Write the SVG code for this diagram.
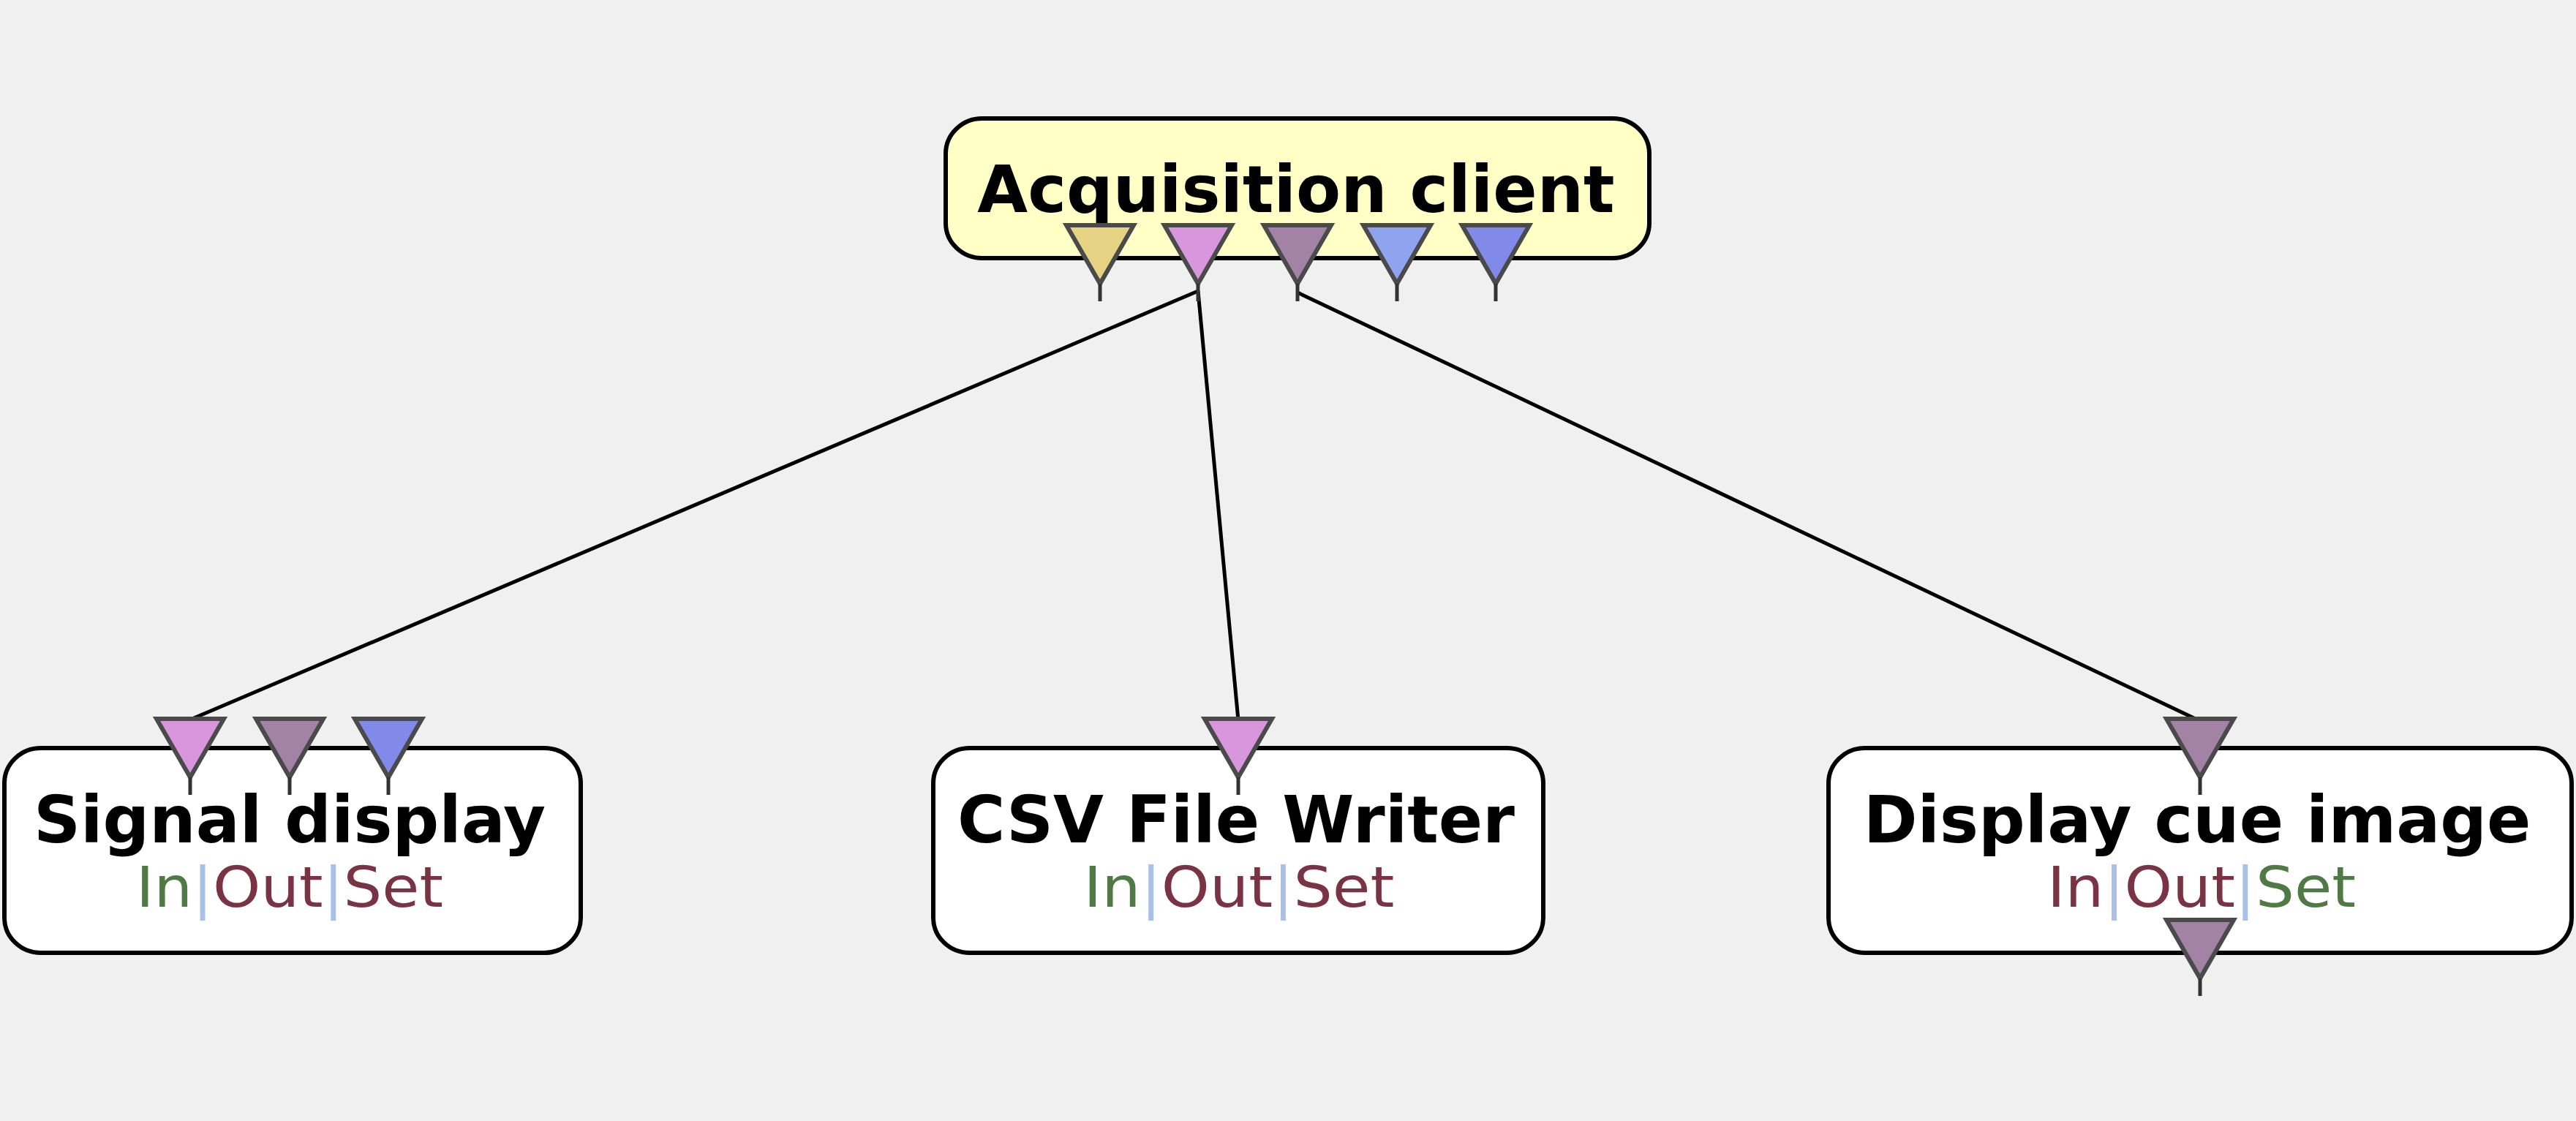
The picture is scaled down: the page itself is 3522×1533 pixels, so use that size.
<svg xmlns="http://www.w3.org/2000/svg" width="3522" height="1533" viewBox="0 0 3522 1533">
<style>
.bg{fill:#f0f0f0}
.box{stroke:#000;stroke-width:6}
.acq{fill:#ffffc6}
.blk{fill:#ffffff}
.title{font-family:"DejaVu Sans",sans-serif;font-weight:bold;font-size:89px;fill:#000;text-anchor:middle}
.sub{font-family:"DejaVu Sans",sans-serif;font-size:76px;text-anchor:middle}
.g{fill:#4f7a45}
.m{fill:#7a3344}
.p{fill:#a9c1e6}
.port{stroke:#4a4a4a;stroke-width:6;stroke-linejoin:miter}
.stem{stroke:#333;stroke-width:5}
.c1{fill:#e6d283}
.c2{fill:#d896dc}
.c3{fill:#a283a6}
.c4{fill:#8fa3ef}
.c5{fill:#818ae8}
.conn{stroke:#000;stroke-width:5;fill:none}
</style>
<defs>
<g id="tri"><polygon points="-46,0 46,0 0,80" class="port"/><line x1="0" y1="80" x2="0" y2="104" class="stem"/></g>
</defs>
<rect class="bg" x="0" y="0" width="3522" height="1533"/>
<g id="connectors">
<line class="conn" x1="1638" y1="398" x2="258" y2="985"/>
<line class="conn" x1="1638" y1="398" x2="1693" y2="985"/>
<line class="conn" x1="1774" y1="400" x2="3006" y2="985"/>
</g>
<g id="node-acquisition-client">
<rect class="box acq" x="1293" y="162" width="962" height="191" rx="50" ry="48"/>
<text class="title" x="1772" y="290">Acquisition client</text>
<use href="#tri" x="1504" y="308" class="c1"/>
<use href="#tri" x="1638" y="308" class="c2"/>
<use href="#tri" x="1774" y="308" class="c3"/>
<use href="#tri" x="1910" y="308" class="c4"/>
<use href="#tri" x="2045" y="308" class="c5"/>
</g>
<g id="node-signal-display">
<rect class="box blk" x="6" y="1023" width="788" height="280" rx="50" ry="48"/>
<text class="title" x="396" y="1152">Signal display</text>
<text class="sub" x="396" y="1240" textLength="420" lengthAdjust="spacingAndGlyphs"><tspan class="g">In</tspan><tspan class="p">|</tspan><tspan class="m">Out</tspan><tspan class="p">|</tspan><tspan class="m">Set</tspan></text>
<use href="#tri" x="260" y="983" class="c2"/>
<use href="#tri" x="396" y="983" class="c3"/>
<use href="#tri" x="531" y="983" class="c5"/>
</g>
<g id="node-csv-file-writer">
<rect class="box blk" x="1276" y="1023" width="834" height="280" rx="50" ry="48"/>
<text class="title" x="1690" y="1152">CSV File Writer</text>
<text class="sub" x="1694" y="1240" textLength="425" lengthAdjust="spacingAndGlyphs"><tspan class="g">In</tspan><tspan class="p">|</tspan><tspan class="m">Out</tspan><tspan class="p">|</tspan><tspan class="m">Set</tspan></text>
<use href="#tri" x="1693" y="983" class="c2"/>
</g>
<g id="node-display-cue-image">
<rect class="box blk" x="2500" y="1023" width="1016" height="280" rx="50" ry="48"/>
<text class="title" x="3004" y="1152">Display cue image</text>
<text class="sub" x="3010" y="1240" textLength="422" lengthAdjust="spacingAndGlyphs"><tspan class="m">In</tspan><tspan class="p">|</tspan><tspan class="m">Out</tspan><tspan class="p">|</tspan><tspan class="g">Set</tspan></text>
<use href="#tri" x="3008" y="983" class="c3"/>
<use href="#tri" x="3008" y="1258" class="c3"/>
</g>
</svg>
